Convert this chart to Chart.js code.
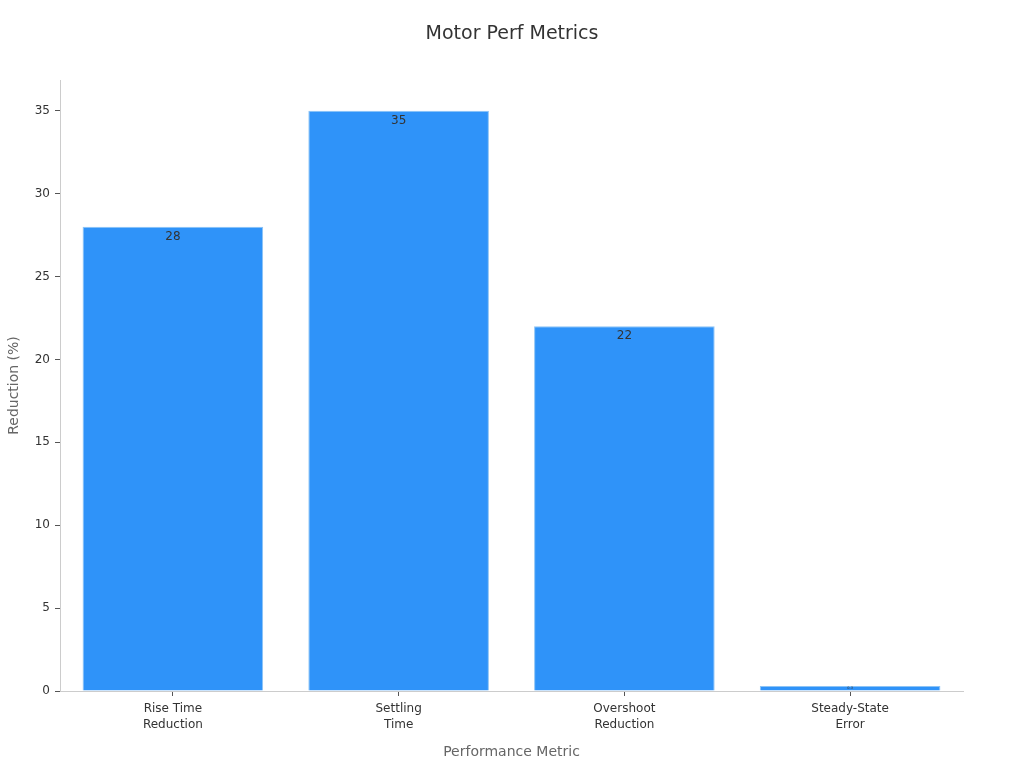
<!DOCTYPE html>
<html>
<head>
<meta charset="utf-8">
<script src="https://cdn.jsdelivr.net/npm/chart.js@4"></script>
<style>
  body { margin: 0; background: #fff; }
  #wrap { width: 1024px; height: 768px; }
</style>
</head>
<body>
<div id="wrap"><canvas id="barChart"></canvas></div>
<script>
const chartTitle = 'Motor Perf Metrics';
const categories = [
    ["Rise Time", "Reduction"],
    ["Settling", "Time"],
    ["Overshoot", "Reduction"],
    ["Steady-State", "Error"]
];
const reduction = [28, 35, 22, 0.3];
const yTicks = [0, 5, 10, 15, 20, 25, 30, 35];

// value labels just under the top of each bar, title centred on the page
const barLabels = {
    id: 'barLabels',
    afterDatasetsDraw(chart) {
        const ctx = chart.ctx;
        const meta = chart.getDatasetMeta(0);
        ctx.save();
        ctx.fillStyle = '#333';
        ctx.textAlign = 'center';
        ctx.textBaseline = 'middle';
        meta.data.forEach((bar, i) => {
            const h = bar.base - bar.y;
            let size = 12;
            if (h < 16) size = Math.max(3, h - 1);
            ctx.font = size + 'px "DejaVu Sans"';
            const y = h < 16 ? bar.y + h / 2 : bar.y + 10;
            ctx.fillText(String(reduction[i]), bar.x, y);
        });
        ctx.font = '19px "DejaVu Sans"';
        ctx.fillStyle = '#333';
        ctx.fillText(chartTitle, chart.width / 2, 34);
        ctx.restore();
    }
};

document.addEventListener("DOMContentLoaded", function () {
    const ctx = document.getElementById('barChart').getContext('2d');
    new Chart(ctx, {
        type: 'bar',
        data: {
            labels: categories,
            datasets: [{
                data: reduction,
                backgroundColor: '#2f93f9',
                borderColor: '#8cc3f5',
                borderWidth: 1,
                barPercentage: 0.8,
                categoryPercentage: 1.0
            }]
        },
        options: {
            responsive: true,
            maintainAspectRatio: false,
            animation: false,
            layout: { padding: { top: 80, right: 61, left: 0, bottom: 3 } },
            plugins: {
                legend: { display: false },
                tooltip: { enabled: false },
                title: { display: false }
            },
            scales: {
                x: {
                    grid: { display: true, offset: false, drawOnChartArea: false, tickLength: 5, tickColor: '#555' },
                    border: { display: true, color: '#ccc' },
                    ticks: { color: '#333', font: { family: '"DejaVu Sans"', size: 12, lineHeight: 1.3 }, padding: 5 },
                    title: {
                        display: true,
                        text: 'Performance Metric',
                        color: '#666',
                        font: { family: '"DejaVu Sans"', size: 14 },
                        padding: { top: 7, bottom: 4 }
                    }
                },
                y: {
                    min: 0,
                    max: 36.85,
                    afterBuildTicks(axis) {
                        axis.ticks = yTicks.map(v => ({ value: v }));
                    },
                    afterFit(axis) {
                        axis.width = 60;
                    },
                    grid: { display: true, drawOnChartArea: false, tickLength: 5, tickColor: '#555' },
                    border: { display: true, color: '#ccc' },
                    ticks: { color: '#333', font: { family: '"DejaVu Sans"', size: 12 }, padding: 5 },
                    title: {
                        display: true,
                        text: 'Reduction (%)',
                        color: '#666',
                        font: { family: '"DejaVu Sans"', size: 14 },
                        padding: { top: 6, bottom: 4 }
                    }
                }
            }
        },
        plugins: [barLabels]
    });
});
</script>
</body>
</html>
